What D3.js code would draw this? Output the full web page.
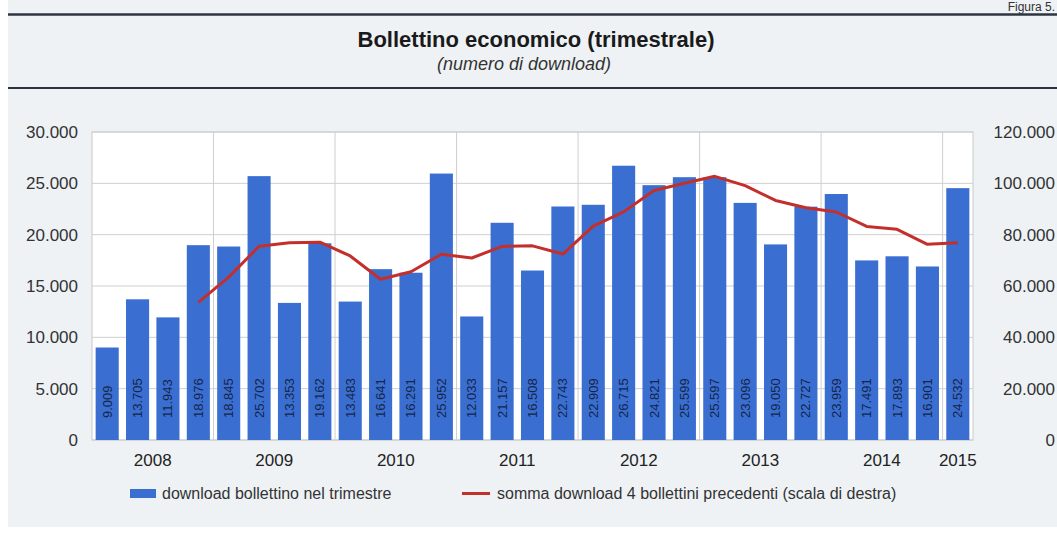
<!DOCTYPE html>
<html>
<head>
<meta charset="utf-8">
<script src="https://cdn.jsdelivr.net/npm/d3@7"></script>
<style>
  html, body { margin: 0; padding: 0; background: #ffffff; }
  svg { display: block; font-family: "Liberation Sans", Arial, sans-serif; }
</style>
</head>
<body>
<svg id="chart"></svg>
<script>
// quarters 2008 Q1 .. 2015 Q1
const quarters = ['2008T1','2008T2','2008T3','2008T4','2009T1','2009T2','2009T3','2009T4',
  '2010T1','2010T2','2010T3','2010T4','2011T1','2011T2','2011T3','2011T4',
  '2012T1','2012T2','2012T3','2012T4','2013T1','2013T2','2013T3','2013T4',
  '2014T1','2014T2','2014T3','2014T4','2015T1'];

const downloads = [9009, 13705, 11943, 18976, 18845, 25702, 13353, 19162,
  13483, 16641, 16291, 25952, 12033, 21157, 16508, 22743,
  22909, 26715, 24821, 25599, 25597, 23096, 19050, 22727,
  23959, 17491, 17893, 16901, 24532];

// somma 4 bollettini (scala di destra), null where not available
const sum4 = [null, null, null, 53633, 63469, 75466, 76876, 77062,
  71700, 62639, 65577, 72367, 70917, 75433, 75650, 72441,
  83317, 88875, 97188, 100044, 102732, 99113, 93342, 90470,
  88832, 83227, 82070, 76244, 76817];

const yearLabels = ['2008','2009','2010','2011','2012','2013','2014','2015'];
const leftTicks = [0, 5000, 10000, 15000, 20000, 25000, 30000];
const rightTicks = [0, 20000, 40000, 60000, 80000, 100000, 120000];

const W = 1057, H = 534;
const plot = {left: 92, right: 973, top: 132, bottom: 440};
const BLUE = '#3a6fd1', RED = '#c3302c';
const FONT = '"Liberation Sans", Arial, sans-serif';

const fmt = d3.formatLocale({decimal: ',', thousands: '.', grouping: [3], currency: ['', '€']}).format(',d');

const svg = d3.select('#chart').attr('width', W).attr('height', H);

// background panel
svg.append('rect').attr('x', 8).attr('y', 0).attr('width', W - 8).attr('height', 527).attr('fill', '#eef2f5');

// header
svg.append('text').attr('x', 1055).attr('y', 11).attr('text-anchor', 'end')
  .attr('font-size', 12).attr('fill', '#333').text('Figura 5.');
svg.append('line').attr('x1', 8).attr('x2', W).attr('y1', 14.5).attr('y2', 14.5)
  .attr('stroke', '#2c3440').attr('stroke-width', 2.5);
svg.append('line').attr('x1', 8).attr('x2', W).attr('y1', 88).attr('y2', 88)
  .attr('stroke', '#2c3440').attr('stroke-width', 2);
svg.append('text').attr('x', 536).attr('y', 47).attr('text-anchor', 'middle')
  .attr('font-size', 22).attr('font-weight', 'bold').attr('fill', '#1a1a1a')
  .text('Bollettino economico (trimestrale)');
svg.append('text').attr('x', 524).attr('y', 70).attr('text-anchor', 'middle')
  .attr('font-size', 18).attr('font-style', 'italic').attr('fill', '#333')
  .text('(numero di download)');

// scales
const x = d3.scaleBand().domain(quarters).range([plot.left, plot.right])
  .paddingInner(0.24).paddingOuter(0.12);
const yL = d3.scaleLinear().domain([0, 30000]).range([plot.bottom, plot.top]);
const yR = d3.scaleLinear().domain([0, 120000]).range([plot.bottom, plot.top]);

// plot area
svg.append('rect').attr('x', plot.left).attr('y', plot.top)
  .attr('width', plot.right - plot.left).attr('height', plot.bottom - plot.top)
  .attr('fill', '#ffffff').attr('stroke', '#c8c8c8');

// horizontal grid
svg.append('g').selectAll('line').data(leftTicks).join('line')
  .attr('x1', plot.left).attr('x2', plot.right)
  .attr('y1', d => yL(d)).attr('y2', d => yL(d))
  .attr('stroke', '#cfcfcf').attr('stroke-width', 1);

// vertical grid at year boundaries
const yearStarts = quarters.filter((q, i) => q.endsWith('T1') && i > 0);
const step = x.step();
svg.append('g').selectAll('line').data(yearStarts).join('line')
  .attr('x1', d => x(d) - step * x.paddingInner() / 2)
  .attr('x2', d => x(d) - step * x.paddingInner() / 2)
  .attr('y1', plot.top).attr('y2', plot.bottom)
  .attr('stroke', '#cfcfcf').attr('stroke-width', 1);

// left axis
const axL = svg.append('g').attr('transform', `translate(${plot.left - 14},0)`)
  .call(d3.axisLeft(yL).tickValues(leftTicks).tickFormat(fmt).tickSize(0).tickPadding(0));
axL.select('.domain').remove();
axL.selectAll('text').attr('font-size', 17).attr('fill', '#333').attr('font-family', FONT);

// right axis
const axR = svg.append('g').attr('transform', `translate(1055,0)`)
  .call(d3.axisLeft(yR).tickValues(rightTicks).tickFormat(fmt).tickSize(0).tickPadding(0));
axR.select('.domain').remove();
axR.selectAll('text').attr('font-size', 17).attr('fill', '#333').attr('font-family', FONT);

// bars
const bars = svg.append('g');
bars.selectAll('rect').data(downloads).join('rect')
  .attr('x', (d, i) => x(quarters[i]))
  .attr('y', d => yL(d))
  .attr('width', x.bandwidth())
  .attr('height', d => yL(0) - yL(d))
  .attr('fill', BLUE);

bars.selectAll('text').data(downloads).join('text')
  .attr('transform', (d, i) => `translate(${x(quarters[i]) + x.bandwidth() / 2 + 4.5},${plot.bottom - 22}) rotate(-90)`)
  .attr('font-size', 13).attr('fill', '#15254a')
  .text(d => fmt(d));

// line
const line = d3.line()
  .defined(d => d !== null)
  .x((d, i) => x(quarters[i]) + x.bandwidth() / 2)
  .y(d => yR(d));
svg.append('path').datum(sum4).attr('d', line)
  .attr('fill', 'none').attr('stroke', RED).attr('stroke-width', 3)
  .attr('stroke-linejoin', 'round');

// year labels (center of each year's quarters)
const yearCenter = yr => {
  const qs = quarters.filter(q => q.startsWith(yr));
  const a = x(qs[0]), b = x(qs[qs.length - 1]) + x.bandwidth();
  return (a + b) / 2;
};
svg.append('g').selectAll('text').data(yearLabels).join('text')
  .attr('x', d => yearCenter(d)).attr('y', 466).attr('text-anchor', 'middle')
  .attr('font-size', 17).attr('fill', '#222').text(d => d);

// legend
const lg = svg.append('g');
lg.append('rect').attr('x', 130).attr('y', 489).attr('width', 26).attr('height', 9).attr('fill', BLUE);
lg.append('text').attr('x', 162).attr('y', 499).attr('font-size', 16).attr('fill', '#333')
  .text('download bollettino nel trimestre');
lg.append('line').attr('x1', 462).attr('x2', 490).attr('y1', 493.5).attr('y2', 493.5)
  .attr('stroke', RED).attr('stroke-width', 3);
lg.append('text').attr('x', 497).attr('y', 499).attr('font-size', 16).attr('fill', '#333')
  .text('somma download 4 bollettini precedenti (scala di destra)');
</script>
</body>
</html>
